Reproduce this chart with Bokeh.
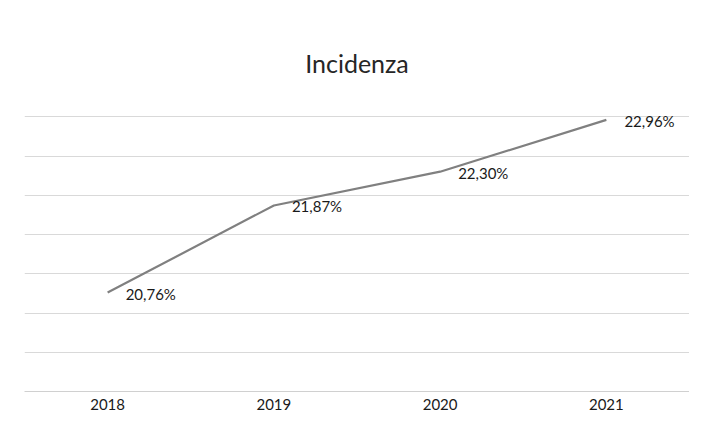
from bokeh.plotting import figure
from bokeh.models import FactorRange, Range1d, FixedTicker, ColumnDataSource
from bokeh.core.properties import value
from bokeh.embed import file_html
from bokeh.resources import INLINE

# ---- data ----
years = ["2018", "2019", "2020", "2021"]
incidenza = [20.76, 21.87, 22.30, 22.96]
point_labels = ["20,76%", "21,87%", "22,30%", "22,96%"]
y_ticks = [19.5, 20.0, 20.5, 21.0, 21.5, 22.0, 22.5, 23.0, 23.5]
y_start, y_end = 19.5, 23.5
title_text = "Incidenza"

FONT = "Lato"

src = ColumnDataSource(dict(x=years, y=incidenza, lab=point_labels))

p = figure(
    x_range=FactorRange(*years),
    y_range=Range1d(y_start, y_end),
    width=689, height=412,
    output_backend="svg", toolbar_location=None,
    min_border_left=24, min_border_right=0,
    min_border_top=77, min_border_bottom=0,
    title=title_text,
)

p.title.align = "center"
p.title.text_font = FONT
p.title.text_font_size = "25px"
p.title.text_font_style = "normal"
p.title.text_color = "#262626"
p.title.standoff = 0
p.title.text_line_height = 1.0

p.outline_line_color = None
p.background_fill_color = "white"
p.border_fill_color = "white"

# y axis hidden, gridlines only
p.yaxis.visible = False
p.yaxis.ticker = FixedTicker(ticks=y_ticks)
p.ygrid.ticker = FixedTicker(ticks=y_ticks)
p.ygrid.grid_line_color = "#d9d9d9"
p.ygrid.grid_line_width = 1
p.xgrid.grid_line_color = None

# x axis
p.xaxis.axis_line_color = "#d0d0d0"
p.xaxis.major_tick_line_color = None
p.xaxis.minor_tick_line_color = None
p.xaxis.major_tick_out = 0
p.xaxis.major_label_text_font = FONT
p.xaxis.major_label_text_font_size = "15px"
p.xaxis.major_label_text_color = "#1a1a1a"
p.xaxis.major_label_standoff = 7
p.xaxis.major_label_text_line_height = 0.8
p.xaxis.major_label_text_baseline = "alphabetic"

p.line("x", "y", source=src, line_color="#808080", line_width=2.2)

p.text("x", "y", text="lab", source=src,
       x_offset=18, y_offset=1,
       text_baseline="middle", text_align="left",
       text_font=value(FONT), text_font_size="15px",
       text_color="#1a1a1a")

open("out.html", "w").write(file_html(p, INLINE))
